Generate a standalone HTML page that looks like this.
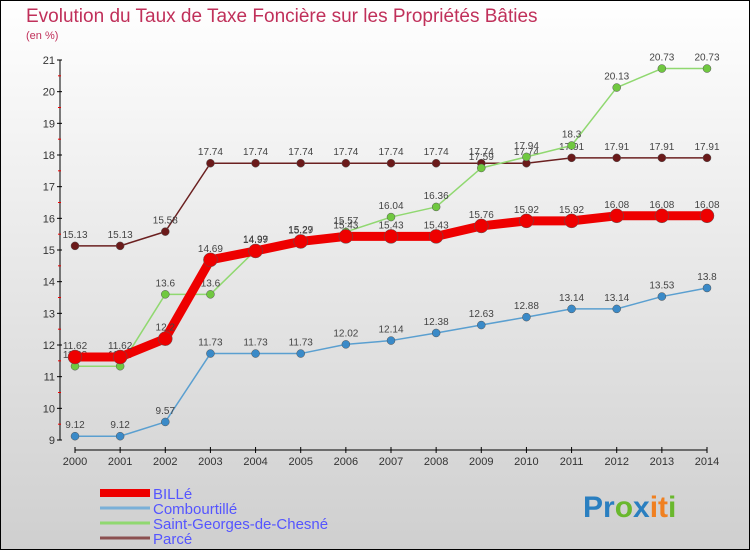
<!DOCTYPE html>
<html><head><meta charset="utf-8"><style>
body{margin:0;width:750px;height:550px;overflow:hidden;font-family:"Liberation Sans",sans-serif}
</style></head><body>
<svg id="chart" width="750" height="550" xmlns="http://www.w3.org/2000/svg">
<defs><linearGradient id="bg" x1="0" y1="0" x2="0" y2="1"><stop offset="0" stop-color="#ffffff"/><stop offset="1" stop-color="#cfcfcf"/></linearGradient></defs>
<rect x="0.5" y="0.5" width="749" height="549" fill="url(#bg)" stroke="#000"/>
<text x="26" y="22" font-size="19" fill="#c0305a">Evolution du Taux de Taxe Foncière sur les Propriétés Bâties</text>
<text x="26" y="39" font-size="11" fill="#c0305a">(en %)</text>
<g id="axes"></g><g id="series"></g><g id="legend"></g>
<text x="583" y="517" font-size="30" font-weight="bold"><tspan fill="#2a7fc0">Pr</tspan><tspan fill="#6ab82e">o</tspan><tspan fill="#2a7fc0">x</tspan><tspan fill="#f08020">it</tspan><tspan fill="#6ab82e">i</tspan></text>
</svg>
<script>
const years=[2000,2001,2002,2003,2004,2005,2006,2007,2008,2009,2010,2011,2012,2013,2014];
const yTicks=[9,10,11,12,13,14,15,16,17,18,19,20,21];
const bille=[11.62,11.62,12.2,14.69,14.97,15.27,15.43,15.43,15.43,15.76,15.92,15.92,16.08,16.08,16.08];
const combourtille=[9.12,9.12,9.57,11.73,11.73,11.73,12.02,12.14,12.38,12.63,12.88,13.14,13.14,13.53,13.8];
const saintGeorges=[11.33,11.33,13.6,13.6,14.99,15.29,15.57,16.04,16.36,17.59,17.94,18.3,20.13,20.73,20.73];
const parce=[15.13,15.13,15.58,17.74,17.74,17.74,17.74,17.74,17.74,17.74,17.74,17.91,17.91,17.91,17.91];
const NS="http://www.w3.org/2000/svg";
const xS=i=>75+i*(707-75)/14;
const yS=v=>440-(v-9)*(380/12);
function mk(tag,attrs,parent){const e=document.createElementNS(NS,tag);for(const k in attrs)e.setAttribute(k,attrs[k]);parent.appendChild(e);return e;}
const ax=document.getElementById('axes');
let e=mk('line',{x1:60,y1:60,x2:60,y2:440,stroke:'#000','stroke-width':1},ax);


e=mk('line',{x1:75,y1:450,x2:707,y2:450,stroke:'#000','stroke-width':1},ax);


yTicks.forEach((t,i)=>{
  const y=yS(t);
  let l=mk('line',{x1:57,y1:y,x2:62,y2:y,stroke:'#000'},ax);
  
  
  if(i<yTicks.length-1){let m=mk('line',{x1:58,y1:y-380/24,x2:61,y2:y-380/24,stroke:'#e00'},ax);
  
  }
  let tx=mk('text',{x:55,y:y+4,'text-anchor':'end','font-size':11,fill:'#333'},ax);tx.textContent=t;
  
  
});
years.forEach((yr,i)=>{
  const x=xS(i);
  let l=mk('line',{x1:x,y1:447,x2:x,y2:453,stroke:'#000'},ax);
  
  
  let tx=mk('text',{x:x,y:465,'text-anchor':'middle','font-size':11,fill:'#333'},ax);tx.textContent=yr;
  
  
});
const sg=document.getElementById('series');
function draw(data,color,pcolor,w,r,name){
  const g=mk('g',{},sg);
  
  
  const p=mk('polyline',{points:data.map((v,i)=>xS(i)+','+yS(v)).join(' '),fill:'none',stroke:color,'stroke-width':w,'stroke-linejoin':'round'},g);
  
  
  data.forEach((v,i)=>{
    const c=mk('circle',{cx:xS(i),cy:yS(v),r:r,fill:pcolor,stroke:'#555','stroke-width':0.5},g);
    
    
    const t=mk('text',{x:xS(i),y:yS(v)-8,'text-anchor':'middle','font-size':10,fill:'#444'},g);t.textContent=v;
    
    
  });
}
draw(parce,'#6b2020','#6b1a1a',1.5,4,'parce');
draw(combourtille,'#5a9fd0','#3a8ac8',1.5,4,'combourtille');
draw(saintGeorges,'#90d870','#70c840',1.5,4,'saint-georges');
draw(bille,'#ee0000','#ee0000',9,7,'bille');
const lg=document.getElementById('legend');
[['BILLé','#ee0000',8],['Combourtillé','#7ab0d8',3],['Saint-Georges-de-Chesné','#90d870',3],['Parcé','#8b5050',3]].forEach((d,i)=>{
  const y=493+i*15;
  let l=mk('line',{x1:100,y1:y,x2:150,y2:y,stroke:d[1],'stroke-width':d[2]},lg);
  
  
  let t=mk('text',{x:153,y:y+6,'font-size':15,fill:'#5555ff'},lg);t.textContent=d[0];
  
  
});
</script>
</body></html>
